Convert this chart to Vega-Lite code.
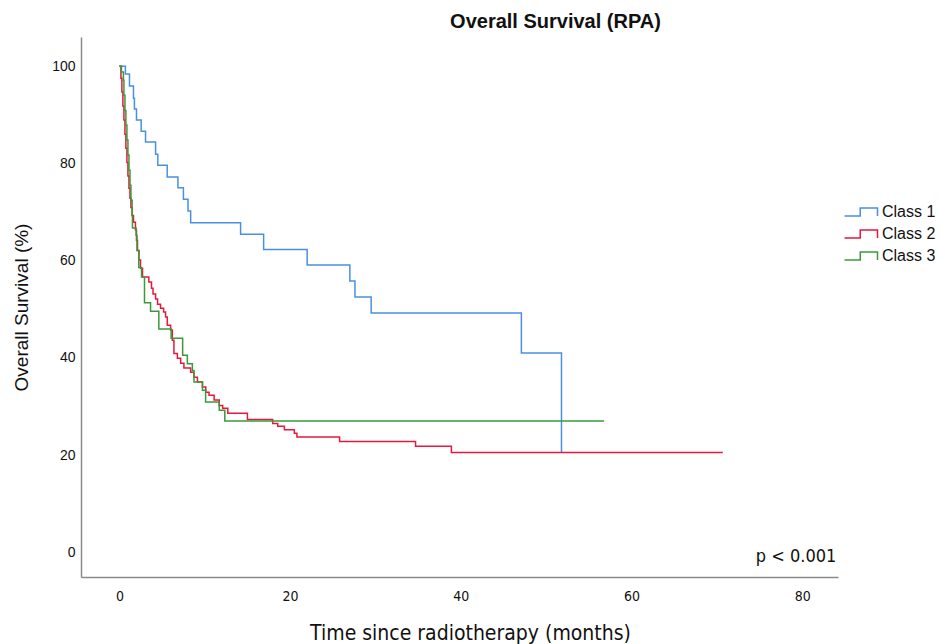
{
  "$schema": "https://vega.github.io/schema/vega-lite/v6.json",
  "autosize": {"type": "none"},
  "width": 757,
  "height": 540,
  "padding": {"left": 81, "top": 37, "right": 103, "bottom": 67},
  "background": "white",
  "config": {"view": {"stroke": null}, "font": "Liberation Sans"},
  "title": {"text": "Overall Survival (RPA)", "fontSize": 20, "fontWeight": "bold", "font": "Liberation Sans", "color": "#111111", "anchor": "middle", "dx": 96, "dy": 24, "baseline": "bottom", "offset": 9},
  "datasets": {
    "km": [
      {"class": "Class 1", "t": 0, "s": 100},
      {"class": "Class 1", "t": 0.7, "s": 98.4},
      {"class": "Class 1", "t": 1.18, "s": 95.9},
      {"class": "Class 1", "t": 1.65, "s": 93.4},
      {"class": "Class 1", "t": 1.76, "s": 91.2},
      {"class": "Class 1", "t": 2.0, "s": 88.9},
      {"class": "Class 1", "t": 2.55, "s": 86.6},
      {"class": "Class 1", "t": 3.06, "s": 84.4},
      {"class": "Class 1", "t": 4.24, "s": 81.9},
      {"class": "Class 1", "t": 4.5, "s": 79.6},
      {"class": "Class 1", "t": 5.6, "s": 77.2},
      {"class": "Class 1", "t": 6.86, "s": 75.0},
      {"class": "Class 1", "t": 7.5, "s": 72.6},
      {"class": "Class 1", "t": 8.04, "s": 70.2},
      {"class": "Class 1", "t": 8.35, "s": 67.8},
      {"class": "Class 1", "t": 14.2, "s": 65.4},
      {"class": "Class 1", "t": 16.9, "s": 62.3},
      {"class": "Class 1", "t": 22.0, "s": 59.1},
      {"class": "Class 1", "t": 27.0, "s": 55.8},
      {"class": "Class 1", "t": 27.6, "s": 52.5},
      {"class": "Class 1", "t": 29.5, "s": 49.2},
      {"class": "Class 1", "t": 47.1, "s": 41.0},
      {"class": "Class 1", "t": 51.8, "s": 20.5},

      {"class": "Class 2", "t": 0, "s": 100},
      {"class": "Class 2", "t": 0.18, "s": 97.5},
      {"class": "Class 2", "t": 0.29, "s": 94.7},
      {"class": "Class 2", "t": 0.41, "s": 91.8},
      {"class": "Class 2", "t": 0.53, "s": 88.9},
      {"class": "Class 2", "t": 0.65, "s": 86.0},
      {"class": "Class 2", "t": 0.76, "s": 83.1},
      {"class": "Class 2", "t": 0.88, "s": 80.2},
      {"class": "Class 2", "t": 1.0, "s": 77.4},
      {"class": "Class 2", "t": 1.12, "s": 74.9},
      {"class": "Class 2", "t": 1.24, "s": 72.8},
      {"class": "Class 2", "t": 1.35, "s": 70.9},
      {"class": "Class 2", "t": 1.49, "s": 69.3},
      {"class": "Class 2", "t": 1.65, "s": 67.9},
      {"class": "Class 2", "t": 1.88, "s": 66.3},
      {"class": "Class 2", "t": 2.0, "s": 64.2},
      {"class": "Class 2", "t": 2.12, "s": 62.1},
      {"class": "Class 2", "t": 2.29, "s": 60.1},
      {"class": "Class 2", "t": 2.47, "s": 58.4},
      {"class": "Class 2", "t": 2.71, "s": 56.6},
      {"class": "Class 2", "t": 3.45, "s": 55.6},
      {"class": "Class 2", "t": 3.76, "s": 54.3},
      {"class": "Class 2", "t": 3.94, "s": 53.1},
      {"class": "Class 2", "t": 4.24, "s": 52.1},
      {"class": "Class 2", "t": 4.47, "s": 51.0},
      {"class": "Class 2", "t": 4.82, "s": 50.2},
      {"class": "Class 2", "t": 5.18, "s": 49.4},
      {"class": "Class 2", "t": 5.41, "s": 48.4},
      {"class": "Class 2", "t": 5.61, "s": 46.7},
      {"class": "Class 2", "t": 6.0, "s": 45.7},
      {"class": "Class 2", "t": 6.2, "s": 43.6},
      {"class": "Class 2", "t": 6.39, "s": 40.9},
      {"class": "Class 2", "t": 6.79, "s": 39.9},
      {"class": "Class 2", "t": 7.18, "s": 38.9},
      {"class": "Class 2", "t": 7.56, "s": 37.9},
      {"class": "Class 2", "t": 8.35, "s": 37.0},
      {"class": "Class 2", "t": 8.74, "s": 36.0},
      {"class": "Class 2", "t": 9.14, "s": 35.0},
      {"class": "Class 2", "t": 9.73, "s": 34.0},
      {"class": "Class 2", "t": 10.12, "s": 32.9},
      {"class": "Class 2", "t": 10.5, "s": 32.3},
      {"class": "Class 2", "t": 11.1, "s": 31.3},
      {"class": "Class 2", "t": 11.7, "s": 30.2},
      {"class": "Class 2", "t": 12.1, "s": 29.6},
      {"class": "Class 2", "t": 12.7, "s": 28.6},
      {"class": "Class 2", "t": 15.0, "s": 27.3},
      {"class": "Class 2", "t": 17.96, "s": 26.5},
      {"class": "Class 2", "t": 18.55, "s": 25.9},
      {"class": "Class 2", "t": 19.33, "s": 25.2},
      {"class": "Class 2", "t": 20.5, "s": 24.5},
      {"class": "Class 2", "t": 20.8, "s": 23.7},
      {"class": "Class 2", "t": 25.8, "s": 22.8},
      {"class": "Class 2", "t": 34.7, "s": 21.8},
      {"class": "Class 2", "t": 38.9, "s": 20.5},
      {"class": "Class 2", "t": 70.7, "s": 20.5},

      {"class": "Class 3", "t": 0, "s": 100},
      {"class": "Class 3", "t": 0.24, "s": 98.8},
      {"class": "Class 3", "t": 0.47, "s": 97.1},
      {"class": "Class 3", "t": 0.53, "s": 94.0},
      {"class": "Class 3", "t": 0.65, "s": 90.9},
      {"class": "Class 3", "t": 0.76, "s": 87.9},
      {"class": "Class 3", "t": 0.88, "s": 84.8},
      {"class": "Class 3", "t": 1.0, "s": 81.7},
      {"class": "Class 3", "t": 1.12, "s": 78.6},
      {"class": "Class 3", "t": 1.24, "s": 75.5},
      {"class": "Class 3", "t": 1.35, "s": 72.4},
      {"class": "Class 3", "t": 1.49, "s": 69.3},
      {"class": "Class 3", "t": 1.53, "s": 66.7},
      {"class": "Class 3", "t": 1.96, "s": 65.2},
      {"class": "Class 3", "t": 2.06, "s": 62.1},
      {"class": "Class 3", "t": 2.27, "s": 58.6},
      {"class": "Class 3", "t": 2.59, "s": 56.6},
      {"class": "Class 3", "t": 2.94, "s": 51.3},
      {"class": "Class 3", "t": 3.65, "s": 49.6},
      {"class": "Class 3", "t": 4.62, "s": 45.9},
      {"class": "Class 3", "t": 6.06, "s": 44.0},
      {"class": "Class 3", "t": 7.41, "s": 40.5},
      {"class": "Class 3", "t": 7.96, "s": 38.8},
      {"class": "Class 3", "t": 8.55, "s": 37.4},
      {"class": "Class 3", "t": 8.74, "s": 35.0},
      {"class": "Class 3", "t": 9.73, "s": 33.3},
      {"class": "Class 3", "t": 10.1, "s": 30.9},
      {"class": "Class 3", "t": 11.7, "s": 29.2},
      {"class": "Class 3", "t": 12.35, "s": 27.0},
      {"class": "Class 3", "t": 56.8, "s": 27.0}
    ],
    "note": [{"label": "p < 0.001", "t": 84.0, "s": -1}]
  },
  "layer": [
    {
      "data": {"name": "km"},
      "mark": {"type": "line", "interpolate": "step-after", "strokeWidth": 1.5},
      "encoding": {
        "x": {
          "field": "t", "type": "quantitative",
          "scale": {"domain": [-4.5, 84.2], "nice": false, "zero": false},
          "axis": {
            "title": "Time since radiotherapy (months)",
            "values": [0, 20, 40, 60, 80],
            "grid": false, "ticks": false,
            "domainColor": "#8a8a8a", "domainWidth": 1.5,
            "labelFont": "DejaVu Sans Condensed, Liberation Sans, sans-serif", "labelFontSize": 14, "labelColor": "#111111", "labelPadding": 12,
            "titleFont": "DejaVu Sans Condensed, Liberation Sans, sans-serif", "titleFontSize": 21, "titleFontWeight": "normal", "titleColor": "#111111", "titlePadding": 19, "titleX": 389
          }
        },
        "y": {
          "field": "s", "type": "quantitative",
          "scale": {"domain": [-5.1, 106], "nice": false, "zero": false},
          "axis": {
            "title": "Overall Survival (%)",
            "values": [0, 20, 40, 60, 80, 100],
            "grid": false, "ticks": false,
            "domainColor": "#8a8a8a", "domainWidth": 1.5,
            "labelFont": "Liberation Sans, Arial, sans-serif", "labelFontSize": 14, "labelColor": "#111111", "labelPadding": 6,
            "titleFont": "Liberation Sans, Arial, sans-serif", "titleFontSize": 19, "titleFontWeight": "normal", "titleColor": "#111111", "titlePadding": 20
          }
        },
        "color": {
          "field": "class", "type": "nominal",
          "scale": {"domain": ["Class 1", "Class 2", "Class 3"], "range": ["#4a90e2", "#e6193c", "#3a9a3a"]},
          "legend": {
            "title": null, "orient": "none", "legendX": 772, "legendY": 167,
            "symbolType": "M-3.3,0.8L-0.15,0.8L-0.15,-0.8L3.3,-0.8L3.3,0.8",
            "symbolSize": 100, "symbolStrokeWidth": 1.5, "symbolFillColor": "transparent",
            "labelFont": "Liberation Sans, Arial, sans-serif", "labelFontSize": 16, "labelColor": "#111111", "labelOffset": 13,
            "rowPadding": 6
          }
        }
      }
    },
    {
      "data": {"name": "note"},
      "mark": {"type": "text", "align": "right", "baseline": "middle", "font": "DejaVu Sans Condensed, Liberation Sans, sans-serif", "fontSize": 18, "color": "#111111"},
      "encoding": {
        "x": {"field": "t", "type": "quantitative"},
        "y": {"field": "s", "type": "quantitative"},
        "text": {"field": "label"}
      }
    }
  ]
}
